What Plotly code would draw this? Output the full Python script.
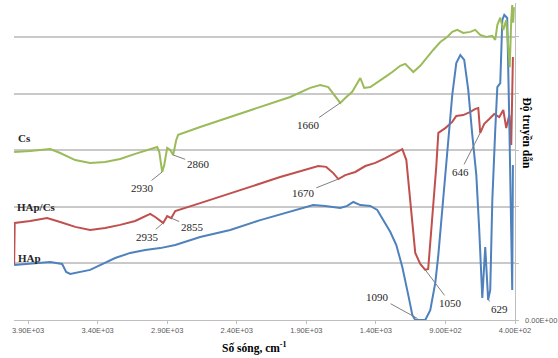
import plotly.graph_objects as go

# ---------------- data ----------------
cs_wn = [4000, 3885, 3741, 3669, 3561, 3454, 3346, 3238, 3130, 3022, 2972, 2957, 2936, 2921,
         2900, 2878, 2857, 2835, 2821, 2663, 2447, 2231, 2016, 1872, 1800, 1742, 1699, 1656,
         1620, 1570, 1512, 1484, 1440, 1383, 1332, 1282, 1225, 1189, 1131, 1081, 1031, 988,
         937, 887, 851, 815, 772, 722, 686, 650, 607, 563, 542, 527, 506, 484, 463, 448, 438,
         427, 420, 413, 408]
cs_t = [59.4, 59.7, 60.4, 59.0, 56.5, 55.5, 55.8, 56.9, 58.7, 60.4, 61.1, 59.4, 52.3, 54.8,
        60.8, 60.1, 58.3, 63.6, 65.4, 68.2, 71.7, 75.3, 78.8, 82.0, 83.0, 82.3, 79.5, 76.7,
        78.4, 80.6, 85.5, 82.0, 82.3, 84.1, 85.9, 87.6, 89.8, 90.5, 87.6, 89.8, 92.9, 95.4,
        98.2, 100.0, 101.8, 102.5, 101.4, 101.8, 102.5, 100.7, 100.0, 100.4, 99.0, 104.2,
        106.8, 102.5, 106.0, 96.0, 89.3, 106.0, 111.3, 105.0, 110.5]

hapcs_wn = [4000, 3996, 3885, 3763, 3669, 3561, 3454, 3346, 3238, 3130, 3022, 2986, 2929, 2900,
            2871, 2842, 2663, 2375, 2088, 1814, 1757, 1706, 1670, 1620, 1548, 1476, 1404, 1332,
            1260, 1210, 1181, 1153, 1117, 1081, 1045, 1024, 995, 980, 966, 951, 901, 851, 822,
            772, 721, 685, 664, 650, 621, 585, 549, 513, 484, 463, 441, 427, 415]
hapcs_t = [19.4, 34.3, 35.0, 36.0, 34.6, 32.9, 31.8, 32.5, 33.6, 35.0, 37.5, 36.4, 34.3, 36.7,
           36.0, 38.5, 41.3, 45.9, 50.5, 54.4, 54.1, 51.9, 49.8, 51.2, 52.3, 54.4, 55.5, 57.2,
           59.0, 60.4, 56.5, 42.4, 23.7, 19.8, 17.7, 18.0, 35.3, 45.9, 54.1, 66.1, 67.8, 70.0,
           72.1, 72.4, 73.5, 74.6, 74.9, 66.1, 69.3, 71.0, 72.8, 71.7, 74.2, 67.8, 72.4, 61.8, 92.9]

hap_wn = [4000, 3885, 3741, 3655, 3626, 3597, 3525, 3454, 3382, 3274, 3166, 3058, 2950, 2842,
          2663, 2447, 2231, 2016, 1850, 1764, 1656, 1606, 1562, 1512, 1440, 1390, 1347, 1296,
          1253, 1210, 1167, 1138, 1117, 1045, 1009, 973, 951, 922, 887, 851, 822, 793, 765,
          736, 707, 678, 657, 635, 614, 593, 578, 563, 542, 527, 506, 491, 477, 456, 441, 427,
          420, 415]
hap_t = [19.4, 19.8, 20.5, 19.8, 17.0, 16.3, 17.0, 17.7, 19.4, 21.9, 23.7, 24.7, 25.4, 26.5,
         29.3, 31.8, 35.3, 38.2, 40.6, 40.3, 39.6, 40.3, 41.7, 40.6, 40.3, 38.9, 35.3, 31.1,
         26.5, 18.7, 8.8, 1.8, 0.0, 0.0, 3.5, 13.1, 23.0, 38.9, 60.1, 79.5, 90.8, 93.6, 91.9,
         81.3, 65.4, 51.2, 31.8, 7.8, 25.8, 7.1, 10.6, 42.4, 67.1, 82.3, 83.7, 106.0, 107.8,
         106.7, 70.0, 30.0, 10.6, 54.8]

x_tickvals = [3900, 3400, 2900, 2400, 1900, 1400, 900, 400]
x_ticktext = ["3.90E+03", "3.40E+03", "2.90E+03", "2.40E+03", "1.90E+03", "1.40E+03",
              "9.00E+02", "4.00E+02"]
y_gridvals = [0, 20, 40, 60, 80, 100]
y_zero_label = "0.00E+00"

# peak labels: (text, wavenumber, value, dx, dy)
peak_labels = [
    ("2930", 2936, 52.3, -20, 16),
    ("2860", 2857, 58.3, 25, 9),
    ("2935", 2929, 34.3, -16, 14),
    ("2855", 2871, 36.0, 21, 9),
    ("1660", 1656, 76.7, -32, 22),
    ("1670", 1670, 49.8, -35, 14),
    ("646", 650, 66.1, -20, 39),
    ("1090", 1100, 0.5, -40, -22),
    ("1050", 1045, 17.7, 25, 33),
    ("629", 593, 7.1, 11, 9),
]

series_labels = [("Cs", 3988, 64.3), ("HAp/Cs", 3996, 39.9), ("HAp", 3985, 21.8)]

GREEN = "#9BBB59"
RED = "#C0504D"
BLUE = "#4F81BD"
SERIF = "Liberation Serif, Times New Roman, serif"
SANS = "Liberation Sans, Arial, sans-serif"

fig = go.Figure()
fig.add_trace(go.Scatter(x=hapcs_wn, y=hapcs_t, mode="lines", name="HAp/Cs",
                         line=dict(color=RED, width=2)))
fig.add_trace(go.Scatter(x=hap_wn, y=hap_t, mode="lines", name="HAp",
                         line=dict(color=BLUE, width=2)))
fig.add_trace(go.Scatter(x=cs_wn, y=cs_t, mode="lines", name="Cs",
                         line=dict(color=GREEN, width=2)))

annotations = []
for txt, xv, yv, dx, dy in peak_labels:
    annotations.append(dict(x=xv, y=yv, xref="x", yref="y", text=txt, showarrow=True,
                            arrowhead=0, arrowwidth=1, arrowcolor="#7f7f7f", ax=dx, ay=dy,
                            font=dict(family=SERIF, size=11, color="#262626")))
for txt, xv, yv in series_labels:
    annotations.append(dict(x=xv, y=yv, xref="x", yref="y", text="<b>%s</b>" % txt,
                            showarrow=False, xanchor="left",
                            font=dict(family=SERIF, size=11, color="#262626")))
annotations.append(dict(x=1.0, y=0, xref="paper", yref="y", text=y_zero_label,
                        showarrow=False, xanchor="left", yanchor="middle", xshift=8,
                        font=dict(family=SANS, size=7.5, color="#595959")))
annotations.append(dict(x=0.481, y=-0.088, xref="paper", yref="paper",
                        text="<b>Số sóng, cm<sup>-1</sup></b>", showarrow=False,
                        xanchor="center", yanchor="middle",
                        font=dict(family=SERIF, size=11.5, color="#000000")))
annotations.append(dict(x=1.0, y=0.59, xref="paper", yref="paper",
                        text="<b>Độ truyền dẫn</b>", showarrow=False, textangle=90,
                        xanchor="left", yanchor="middle", xshift=3,
                        font=dict(family=SERIF, size=11.5, color="#000000")))

fig.update_layout(
    width=558, height=358,
    margin=dict(l=14, r=43, t=3, b=38),
    paper_bgcolor="white", plot_bgcolor="white",
    showlegend=False,
    annotations=annotations,
    xaxis=dict(range=[4001, 400], tickvals=x_tickvals, ticktext=x_ticktext,
               showgrid=False, zeroline=False, showline=True, linecolor="#bfbfbf",
               linewidth=1, ticks="outside", ticklen=3, tickcolor="#bfbfbf",
               automargin=False,
               tickfont=dict(family=SANS, size=7.5, color="#595959")),
    yaxis=dict(range=[0, 112], side="right", tickvals=y_gridvals, showticklabels=False,
               showgrid=True, gridcolor="#c9c9c9", gridwidth=1.5, zeroline=False,
               showline=True, linecolor="#bfbfbf", linewidth=1, ticks="outside",
               ticklen=3, tickcolor="#bfbfbf", automargin=False),
)

fig.write_html("out.html", config={"displayModeBar": False},
               post_script="document.body.style.margin='0';")
